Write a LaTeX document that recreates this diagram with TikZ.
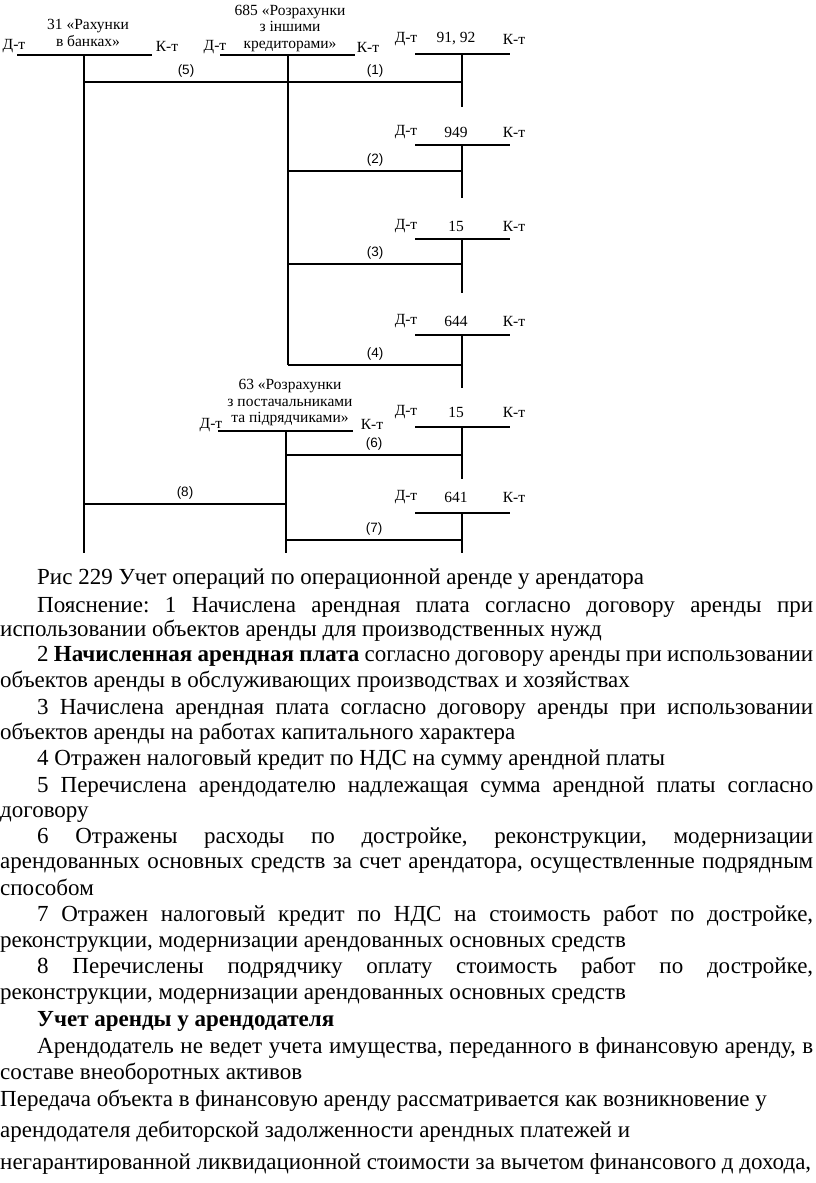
\documentclass[tikz,border=0pt]{standalone}
\usepackage{fontspec}
\setmainfont{Liberation Serif}
\newfontfamily\entryfam{Liberation Sans}
\usepackage{tikz}
\usetikzlibrary{calc}
\frenchspacing
\newcommand\textlinefont{\fontsize{23}{26}\selectfont}
\newcommand\acctfont{\fontsize{15.5}{16.5}\selectfont}
\newcommand\entryfont{\entryfam\fontsize{13.5}{15}\selectfont}
\newcommand\jline[2]{\makebox[#1pt][s]{#2}}

\begin{document}
\begin{tikzpicture}[
    x=1pt, y=-1pt,
    acc/.style={line width=1.1pt},
    dk/.style={font=\acctfont, inner sep=0pt},
    ttl/.style={font=\acctfont, align=center, inner sep=0pt},
    num/.style={font=\entryfont, inner sep=0pt, above=4pt},
    ln/.style={anchor=base west, inner sep=0pt, font=\textlinefont}
  ]
    \useasboundingbox (0,0) rectangle (816,1183);

    % account 31
    \node[ttl] (t31) at (88,33) {31 «Рахунки\\в банках»};
    \node[dk] (d31) at (14,46) {Д-т};
    \node[dk] (k31) at (167,46) {К-т};
    \coordinate (a31) at (84,55);
    \coordinate (b31) at (84,553);
    \draw[acc] ([xshift=-67pt]a31) -- ([xshift=68pt]a31);
    \draw[acc] (a31) -- (b31);

    % account 685
    \node[ttl] (t685) at (290,28) {685 «Розрахунки\\з іншими\\кредиторами»};
    \node[dk] (d685) at (215,47) {Д-т};
    \node[dk] (k685) at (368,47) {К-т};
    \coordinate (a685) at (288,55);
    \coordinate (b685) at (288,365);
    \draw[acc] ([xshift=-68pt]a685) -- ([xshift=67pt]a685);
    \draw[acc] (a685) -- (b685);

    % account 63
    \node[ttl] (t63) at (290,403) {63 «Розрахунки\\з постачальниками\\та підрядчиками»};
    \node[dk] (d63) at (211,425) {Д-т};
    \node[dk] (k63) at (372,424) {К-т};
    \coordinate (a63) at (286,431);
    \coordinate (b63) at (286,553);
    \draw[acc] ([xshift=-68pt]a63) -- ([xshift=67pt]a63);
    \draw[acc] (a63) -- (b63);

    % right-hand accounts
    \node[dk] (d9192) at (406,39) {Д-т};
    \node[dk] (n9192) at (456,39) {91, 92};
    \node[dk] (k9192) at (514,39) {К-т};
    \coordinate (a9192) at (462,54);
    \coordinate (b9192) at (462,107);

    \node[dk] (d949) at (406,132) {Д-т};
    \node[dk] (n949) at (456,132) {949};
    \node[dk] (k949) at (514,132) {К-т};
    \coordinate (a949) at (462,145);
    \coordinate (b949) at (462,198);

    \node[dk] (d15a) at (406,226) {Д-т};
    \node[dk] (n15a) at (456,226) {15};
    \node[dk] (k15a) at (514,226) {К-т};
    \coordinate (a15a) at (462,239);
    \coordinate (b15a) at (462,293);

    \node[dk] (d644) at (406,321) {Д-т};
    \node[dk] (n644) at (456,321) {644};
    \node[dk] (k644) at (514,321) {К-т};
    \coordinate (a644) at (462,335);
    \coordinate (b644) at (462,388);

    \node[dk] (d15b) at (406,412) {Д-т};
    \node[dk] (n15b) at (456,412) {15};
    \node[dk] (k15b) at (514,412) {К-т};
    \coordinate (a15b) at (462,427);
    \coordinate (b15b) at (462,479);

    \node[dk] (d641) at (406,497) {Д-т};
    \node[dk] (n641) at (456,497) {641};
    \node[dk] (k641) at (514,497) {К-т};
    \coordinate (a641) at (462,513);
    \coordinate (b641) at (462,553);

    \foreach \ac in {9192,949,15a,644,15b,641} {
      \draw[acc] ([xshift=-47pt]a\ac) -- ([xshift=48pt]a\ac);
      \draw[acc] (a\ac) -- (b\ac);
    }

    % entries
    \coordinate (e1) at (0,82);
    \coordinate (e2) at (0,171);
    \coordinate (e3) at (0,264);
    \coordinate (e4) at (0,365);
    \coordinate (e6) at (0,455);
    \coordinate (e8) at (0,504);
    \coordinate (e7) at (0,540);
    \draw[acc] (a31 |- e1) -- node[num] {(5)} (a685 |- e1) -- node[num] {(1)} (a9192 |- e1);
    \draw[acc] (a685 |- e2) -- node[num] {(2)} (a949 |- e2);
    \draw[acc] (a685 |- e3) -- node[num] {(3)} (a15a |- e3);
    \draw[acc] (a685 |- e4) -- node[num] {(4)} (a644 |- e4);
    \draw[acc] (a63 |- e6) -- node[num] {(6)} (a15b |- e6);
    \draw[acc] (a31 |- e8) -- node[num] {(8)} (a63 |- e8);
    \draw[acc] (a63 |- e7) -- node[num] {(7)} (a641 |- e7);

    % text below the picture
    \node[ln] (l1) at (37,584) {Рис 229 Учет операций по операционной аренде у арендатора};
    \node[ln] (l2) at (37,612) {\jline{776}{Пояснение: 1 Начислена арендная плата согласно договору аренды при}};
    \node[ln] (l3) at (0,636) {использовании объектов аренды для производственных нужд};
    \node[ln] (l4) at (37,661) {\jline{776}{2 \textbf{Начисленная арендная плата} согласно договору аренды при использовании}};
    \node[ln] (l5) at (0,687) {объектов аренды в обслуживающих производствах и хозяйствах};
    \node[ln] (l6) at (37,714) {\jline{776}{3 Начислена арендная плата согласно договору аренды при использовании}};
    \node[ln] (l7) at (0,739) {объектов аренды на работах капитального характера};
    \node[ln] (l8) at (37,765) {4 Отражен налоговый кредит по НДС на сумму арендной платы};
    \node[ln] (l9) at (37,792) {\jline{776}{5 Перечислена арендодателю надлежащая сумма арендной платы согласно}};
    \node[ln] (l10) at (0,817) {договору};
    \node[ln] (l11) at (37,843) {\jline{776}{6 Отражены расходы по достройке, реконструкции, модернизации}};
    \node[ln] (l12) at (0,868) {\jline{813}{арендованных основных средств за счет арендатора, осуществленные подрядным}};
    \node[ln] (l13) at (0,895) {способом};
    \node[ln] (l14) at (37,921) {\jline{776}{7 Отражен налоговый кредит по НДС на стоимость работ по достройке,}};
    \node[ln] (l15) at (0,947) {реконструкции, модернизации арендованных основных средств};
    \node[ln] (l16) at (37,973) {\jline{776}{8 Перечислены подрядчику оплату стоимость работ по достройке,}};
    \node[ln] (l17) at (0,999) {реконструкции, модернизации арендованных основных средств};
    \node[ln] (l18) at (37,1026) {\textbf{Учет аренды у арендодателя}};
    \node[ln] (l19) at (37,1053) {\jline{776}{Арендодатель не ведет учета имущества, переданного в финансовую аренду, в}};
    \node[ln] (l20) at (0,1079) {составе внеоборотных активов};
    \node[ln] (l21) at (0,1106) {Передача объекта в финансовую аренду рассматривается как возникновение у};
    \node[ln] (l22) at (0,1137) {арендодателя дебиторской задолженности арендных платежей и};
    \node[ln] (l23) at (0,1169) {негарантированной ликвидационной стоимости за вычетом финансового д дохода,};
\end{tikzpicture}
\end{document}
